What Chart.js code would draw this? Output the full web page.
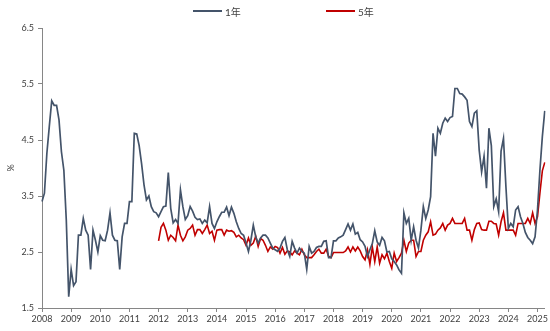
<!DOCTYPE html>
<html>
<head>
<meta charset="utf-8">
<script src="https://cdn.jsdelivr.net/npm/chart.js@4.4.1/dist/chart.umd.min.js"></script>
<style>
  html, body { margin: 0; padding: 0; background: #fff; }
  #wrap { position: relative; width: 550px; height: 331px; }
  #chart { position: absolute; left: 0; top: 0; }
  .legend { position: absolute; top: 4px; left: 0; width: 550px; height: 14px;
            font: 10px Lato, "Noto Sans CJK SC", sans-serif; color: #404040; }
  .legend .item { position: absolute; top: 0; display: flex; align-items: center; height: 14px; }
  .legend .swatch { display: inline-block; width: 29px; height: 2px; margin-right: 3px; }
</style>
</head>
<body>
<div id="wrap">
  <canvas id="chart" width="550" height="331"></canvas>
  <div class="legend">
    <span class="item" style="left:193px"><i class="swatch" style="background:#44546A"></i>1年</span>
    <span class="item" style="left:326px"><i class="swatch" style="background:#C00000"></i>5年</span>
  </div>
</div>
<script>
// monthly series, first point Jan 2008
const startYear = 2008;

// 1年 (Jan 2008 .. Apr 2025)
const rate1Y = [
  3.40, 3.55, 4.26, 4.74, 5.20, 5.12, 5.12, 4.86, 4.29, 3.96, 3.07, 1.70,
  2.19, 1.90, 1.97, 2.80, 2.80, 3.10, 2.89, 2.80, 2.19, 2.89, 2.71, 2.50,
  2.79, 2.71, 2.70, 2.89, 3.20, 2.80, 2.71, 2.70, 2.19, 2.77, 3.01, 3.01,
  3.40, 3.40, 4.62, 4.61, 4.40, 4.08, 3.70, 3.43, 3.50, 3.31, 3.22, 3.20,
  3.13, 3.22, 3.31, 3.32, 3.92, 3.28, 3.02, 3.08, 3.01, 3.61, 3.31, 3.08,
  3.15, 3.31, 3.23, 3.12, 3.08, 3.09, 3.01, 3.07, 3.02, 3.31, 3.01, 2.92,
  3.04, 3.13, 3.21, 3.21, 3.30, 3.15, 3.30, 3.19, 3.04, 2.92, 2.83, 2.80,
  2.66, 2.51, 2.71, 2.98, 2.77, 2.66, 2.75, 2.80, 2.80, 2.75, 2.66, 2.57,
  2.54, 2.51, 2.57, 2.69, 2.76, 2.54, 2.42, 2.69, 2.57, 2.48, 2.57, 2.51,
  2.48, 2.19, 2.60, 2.48, 2.51, 2.58, 2.60, 2.60, 2.69, 2.70, 2.40, 2.40,
  2.70, 2.70, 2.75, 2.77, 2.80, 2.90, 3.00, 2.89, 3.00, 2.82, 2.85, 2.72,
  2.68, 2.60, 2.42, 2.54, 2.65, 2.88, 2.68, 2.62, 2.76, 2.70, 2.50, 2.51,
  2.38, 2.33, 2.27, 2.18, 2.12, 3.20, 3.01, 3.10, 2.71, 2.95, 2.71, 2.57,
  2.89, 3.31, 3.10, 3.25, 3.49, 4.62, 4.21, 4.71, 4.62, 4.80, 4.89, 4.83,
  4.90, 4.92, 5.42, 5.42, 5.33, 5.32, 5.27, 5.21, 4.83, 4.74, 4.98, 5.02,
  4.32, 3.93, 4.21, 3.64, 4.71, 4.40, 3.31, 3.45, 3.22, 4.30, 4.53, 3.67,
  2.92, 3.01, 2.95, 3.25, 3.31, 3.13, 3.01, 2.85, 2.76, 2.71, 2.65, 2.77,
  3.25, 3.96, 4.56, 5.02
];

// 5年 (Jan 2012 .. Apr 2025)
const rate5YStart = 48; // month index of first value
const rate5Y = [
  2.70, 2.94, 3.01, 2.89, 2.71, 2.80, 2.76, 2.70, 2.98, 2.80, 2.70, 2.77,
  2.89, 2.92, 2.98, 2.80, 2.90, 2.90, 2.83, 2.90, 2.98, 2.83, 2.87, 2.71,
  2.89, 2.90, 2.90, 2.80, 2.89, 2.87, 2.88, 2.85, 2.77, 2.80, 2.75, 2.72,
  2.62, 2.75, 2.62, 2.66, 2.78, 2.60, 2.74, 2.71, 2.62, 2.51, 2.59, 2.55,
  2.60, 2.58, 2.48, 2.58, 2.46, 2.52, 2.50, 2.45, 2.52, 2.48, 2.45, 2.55,
  2.45, 2.40, 2.40, 2.40, 2.45, 2.51, 2.55, 2.48, 2.48, 2.55, 2.42, 2.40,
  2.49, 2.49, 2.49, 2.49, 2.49, 2.52, 2.59, 2.50, 2.59, 2.52, 2.59, 2.52,
  2.42, 2.36, 2.54, 2.28, 2.59, 2.33, 2.59, 2.30, 2.45, 2.38, 2.48, 2.33,
  2.21, 2.48, 2.33, 2.40, 2.48, 2.71, 2.51, 2.66, 2.71, 2.71, 2.42, 2.51,
  2.51, 2.71, 2.80, 2.86, 3.04, 2.80, 2.82, 2.89, 2.93, 3.01, 2.89, 2.98,
  3.01, 3.10, 3.01, 3.01, 3.01, 3.01, 3.10, 2.89, 2.89, 2.71, 2.90, 3.01,
  3.02, 2.90, 2.89, 2.89, 3.05, 3.05, 3.01, 3.00, 2.80, 3.04, 3.20, 2.89,
  2.89, 2.89, 2.89, 2.80, 3.01, 3.01, 3.01, 3.01, 3.10, 3.01, 3.20, 3.01,
  3.13, 3.55, 3.95, 4.10
];

const yTicks = [1.5, 2.5, 3.5, 4.5, 5.5, 6.5];

// month categories 'YYYY-MM'
const months = rate1Y.map((_, i) => {
  const y = startYear + Math.floor(i / 12);
  const m = (i % 12) + 1;
  return y + '-' + String(m).padStart(2, '0');
});

const series5 = months.map((_, i) => i < rate5YStart ? null : rate5Y[i - rate5YStart]);

const FONT = 'Lato, "Noto Sans CJK SC", sans-serif';
const AXIS = '#868686';
const TXT = '#404040';

new Chart(document.getElementById('chart'), {
  type: 'line',
  data: {
    labels: months,
    datasets: [
      { label: '1年', data: rate1Y, borderColor: '#44546A', borderWidth: 1.7,
        pointRadius: 0, tension: 0, fill: false },
      { label: '5年', data: series5, borderColor: '#C00000', borderWidth: 1.6,
        pointRadius: 0, tension: 0, fill: false, spanGaps: false }
    ]
  },
  options: {
    responsive: false,
    animation: false,
    devicePixelRatio: 1,
    layout: { padding: { top: 28, right: 5, bottom: 0, left: 0 } },
    plugins: { legend: { display: false }, tooltip: { enabled: false } },
    scales: {
      x: {
        type: 'category',
        afterBuildTicks: s => { s.ticks = s.ticks.filter(t => t.value % 12 === 0); },
        afterFit: s => { s.height = 23; },
        grid: { display: true, drawOnChartArea: false, drawTicks: true, tickLength: 4, color: AXIS },
        border: { display: true, color: AXIS, width: 1 },
        ticks: {
          autoSkip: false, maxRotation: 0, minRotation: 0, padding: 2,
          color: TXT, font: { family: FONT, size: 9 },
          callback: v => months[v].slice(0, 4)
        }
      },
      y: {
        min: yTicks[0], max: yTicks[yTicks.length - 1],
        afterBuildTicks: s => { s.ticks = yTicks.map(v => ({ value: v })); },
        afterFit: s => { s.width = 42; },
        grid: { display: true, drawOnChartArea: false, drawTicks: true, tickLength: 4, color: AXIS },
        border: { display: true, color: AXIS, width: 1 },
        title: { display: true, text: '%', color: TXT, font: { family: FONT, size: 9 }, padding: { top: 6, bottom: 0 } },
        ticks: {
          padding: 4, color: TXT, font: { family: FONT, size: 9 },
          callback: v => Number(v).toFixed(1)
        }
      }
    }
  }
});
</script>
</body>
</html>
